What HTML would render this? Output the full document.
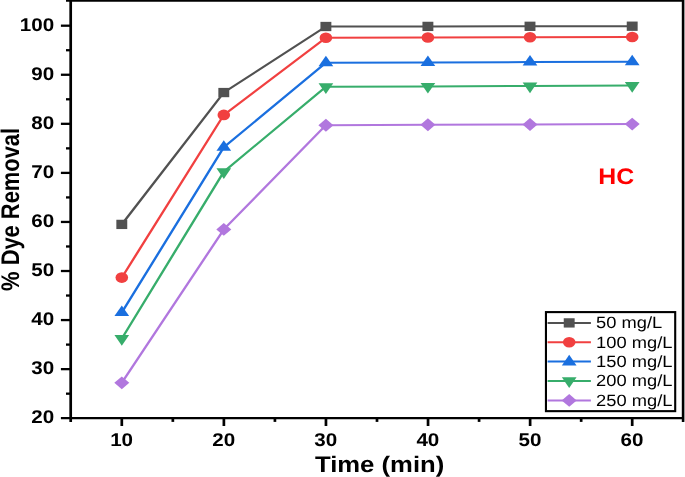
<!DOCTYPE html>
<html><head><meta charset="utf-8"><title>chart</title>
<style>
html,body{margin:0;padding:0;background:#fff;}
body{width:685px;height:477px;overflow:hidden;}
svg{display:block;will-change:transform;}
text{font-family:"Liberation Sans",sans-serif;text-rendering:geometricPrecision;}
.b{font-weight:bold;}
</style></head><body>
<svg width="685" height="477" viewBox="0 0 685 477">
<rect x="0" y="0" width="685" height="477" fill="#fff"/>

<polyline transform="scale(1.2,1)" points="101.500,224.40 186.500,92.55 271.583,26.50 356.583,26.40 441.667,26.30 526.833,26.20" fill="none" stroke="#515151" stroke-width="2.05" stroke-linejoin="round"/>
<rect x="116.35" y="219.75" width="10.9" height="9.3" fill="#515151"/>
<rect x="218.35" y="87.90" width="10.9" height="9.3" fill="#515151"/>
<rect x="320.45" y="21.85" width="10.9" height="9.3" fill="#515151"/>
<rect x="422.45" y="21.75" width="10.9" height="9.3" fill="#515151"/>
<rect x="524.55" y="21.65" width="10.9" height="9.3" fill="#515151"/>
<rect x="626.75" y="21.55" width="10.9" height="9.3" fill="#515151"/>
<polyline transform="scale(1.2,1)" points="101.500,277.60 186.500,114.90 271.583,37.75 356.583,37.50 441.667,37.25 526.833,37.00" fill="none" stroke="#F14040" stroke-width="2.05" stroke-linejoin="round"/>
<ellipse cx="121.80" cy="277.60" rx="6.3" ry="5.3" fill="#F14040"/>
<ellipse cx="223.80" cy="114.90" rx="6.3" ry="5.3" fill="#F14040"/>
<ellipse cx="325.90" cy="37.75" rx="6.3" ry="5.3" fill="#F14040"/>
<ellipse cx="427.90" cy="37.50" rx="6.3" ry="5.3" fill="#F14040"/>
<ellipse cx="530.00" cy="37.25" rx="6.3" ry="5.3" fill="#F14040"/>
<ellipse cx="632.20" cy="37.00" rx="6.3" ry="5.3" fill="#F14040"/>
<polyline transform="scale(1.2,1)" points="101.500,312.50 186.500,147.30 271.583,62.80 356.583,62.50 441.667,62.10 526.833,61.80" fill="none" stroke="#1A6FDF" stroke-width="2.05" stroke-linejoin="round"/>
<polygon points="121.80,305.40 129.15,316.00 114.45,316.00" fill="#1A6FDF"/>
<polygon points="223.80,140.20 231.15,150.80 216.45,150.80" fill="#1A6FDF"/>
<polygon points="325.90,55.70 333.25,66.30 318.55,66.30" fill="#1A6FDF"/>
<polygon points="427.90,55.40 435.25,66.00 420.55,66.00" fill="#1A6FDF"/>
<polygon points="530.00,55.00 537.35,65.60 522.65,65.60" fill="#1A6FDF"/>
<polygon points="632.20,54.70 639.55,65.30 624.85,65.30" fill="#1A6FDF"/>
<polyline transform="scale(1.2,1)" points="101.500,338.60 186.500,171.70 271.583,86.80 356.583,86.40 441.667,86.00 526.833,85.60" fill="none" stroke="#37AD6B" stroke-width="2.05" stroke-linejoin="round"/>
<polygon points="121.80,345.80 129.15,335.10 114.45,335.10" fill="#37AD6B"/>
<polygon points="223.80,178.90 231.15,168.20 216.45,168.20" fill="#37AD6B"/>
<polygon points="325.90,94.00 333.25,83.30 318.55,83.30" fill="#37AD6B"/>
<polygon points="427.90,93.60 435.25,82.90 420.55,82.90" fill="#37AD6B"/>
<polygon points="530.00,93.20 537.35,82.50 522.65,82.50" fill="#37AD6B"/>
<polygon points="632.20,92.80 639.55,82.10 624.85,82.10" fill="#37AD6B"/>
<polyline transform="scale(1.2,1)" points="101.500,382.85 186.500,229.40 271.583,125.20 356.583,124.80 441.667,124.50 526.833,124.10" fill="none" stroke="#B177DE" stroke-width="2.05" stroke-linejoin="round"/>
<polygon points="121.80,376.40 129.30,382.85 121.80,389.30 114.30,382.85" fill="#B177DE"/>
<polygon points="223.80,222.95 231.30,229.40 223.80,235.85 216.30,229.40" fill="#B177DE"/>
<polygon points="325.90,118.75 333.40,125.20 325.90,131.65 318.40,125.20" fill="#B177DE"/>
<polygon points="427.90,118.35 435.40,124.80 427.90,131.25 420.40,124.80" fill="#B177DE"/>
<polygon points="530.00,118.05 537.50,124.50 530.00,130.95 522.50,124.50" fill="#B177DE"/>
<polygon points="632.20,117.65 639.70,124.10 632.20,130.55 624.70,124.10" fill="#B177DE"/>
<g stroke="#000" fill="none">
<line x1="70.7" y1="0" x2="70.7" y2="421.9" stroke-width="2.7"/>
<line x1="682.9" y1="0" x2="682.9" y2="421.9" stroke-width="2.2"/>
<rect x="684" y="0" width="1" height="421.9" fill="#999" stroke="none"/>
<line x1="66.0" y1="0.93" x2="684" y2="0.93" stroke-width="1.86"/>
<line x1="60.9" y1="418.05" x2="684" y2="418.05" stroke-width="2.3"/>
<line x1="66.0" y1="393.67" x2="70.7" y2="393.67" stroke-width="2.3"/>
<line x1="60.9" y1="369.14" x2="70.7" y2="369.14" stroke-width="2.3"/>
<line x1="66.0" y1="344.61" x2="70.7" y2="344.61" stroke-width="2.3"/>
<line x1="60.9" y1="320.07" x2="70.7" y2="320.07" stroke-width="2.3"/>
<line x1="66.0" y1="295.54" x2="70.7" y2="295.54" stroke-width="2.3"/>
<line x1="60.9" y1="271.01" x2="70.7" y2="271.01" stroke-width="2.3"/>
<line x1="66.0" y1="246.48" x2="70.7" y2="246.48" stroke-width="2.3"/>
<line x1="60.9" y1="221.95" x2="70.7" y2="221.95" stroke-width="2.3"/>
<line x1="66.0" y1="197.42" x2="70.7" y2="197.42" stroke-width="2.3"/>
<line x1="60.9" y1="172.89" x2="70.7" y2="172.89" stroke-width="2.3"/>
<line x1="66.0" y1="148.36" x2="70.7" y2="148.36" stroke-width="2.3"/>
<line x1="60.9" y1="123.82" x2="70.7" y2="123.82" stroke-width="2.3"/>
<line x1="66.0" y1="99.29" x2="70.7" y2="99.29" stroke-width="2.3"/>
<line x1="60.9" y1="74.76" x2="70.7" y2="74.76" stroke-width="2.3"/>
<line x1="66.0" y1="50.23" x2="70.7" y2="50.23" stroke-width="2.3"/>
<line x1="60.9" y1="25.70" x2="70.7" y2="25.70" stroke-width="2.3"/>
<line x1="121.80" y1="418.05" x2="121.80" y2="426.0" stroke-width="2.7"/>
<line x1="172.84" y1="418.05" x2="172.84" y2="421.9" stroke-width="2.7"/>
<line x1="223.88" y1="418.05" x2="223.88" y2="426.0" stroke-width="2.7"/>
<line x1="274.92" y1="418.05" x2="274.92" y2="421.9" stroke-width="2.7"/>
<line x1="325.96" y1="418.05" x2="325.96" y2="426.0" stroke-width="2.7"/>
<line x1="377.00" y1="418.05" x2="377.00" y2="421.9" stroke-width="2.7"/>
<line x1="428.04" y1="418.05" x2="428.04" y2="426.0" stroke-width="2.7"/>
<line x1="479.08" y1="418.05" x2="479.08" y2="421.9" stroke-width="2.7"/>
<line x1="530.12" y1="418.05" x2="530.12" y2="426.0" stroke-width="2.7"/>
<line x1="581.16" y1="418.05" x2="581.16" y2="421.9" stroke-width="2.7"/>
<line x1="632.20" y1="418.05" x2="632.20" y2="426.0" stroke-width="2.7"/>
</g>
<text class="b" font-size="18.4" text-anchor="end" transform="translate(54.2,423.00) scale(1.12,1)">20</text>
<text class="b" font-size="18.4" text-anchor="end" transform="translate(54.2,373.94) scale(1.12,1)">30</text>
<text class="b" font-size="18.4" text-anchor="end" transform="translate(54.2,324.88) scale(1.12,1)">40</text>
<text class="b" font-size="18.4" text-anchor="end" transform="translate(54.2,275.81) scale(1.12,1)">50</text>
<text class="b" font-size="18.4" text-anchor="end" transform="translate(54.2,226.75) scale(1.12,1)">60</text>
<text class="b" font-size="18.4" text-anchor="end" transform="translate(54.2,177.69) scale(1.12,1)">70</text>
<text class="b" font-size="18.4" text-anchor="end" transform="translate(54.2,128.62) scale(1.12,1)">80</text>
<text class="b" font-size="18.4" text-anchor="end" transform="translate(54.2,79.56) scale(1.12,1)">90</text>
<text class="b" font-size="18.4" text-anchor="end" transform="translate(54.2,30.50) scale(1.12,1)">100</text>
<text class="b" font-size="18.4" text-anchor="middle" transform="translate(121.60,446.0) scale(1.12,1)">10</text>
<text class="b" font-size="18.4" text-anchor="middle" transform="translate(223.68,446.0) scale(1.12,1)">20</text>
<text class="b" font-size="18.4" text-anchor="middle" transform="translate(325.76,446.0) scale(1.12,1)">30</text>
<text class="b" font-size="18.4" text-anchor="middle" transform="translate(427.84,446.0) scale(1.12,1)">40</text>
<text class="b" font-size="18.4" text-anchor="middle" transform="translate(529.92,446.0) scale(1.12,1)">50</text>
<text class="b" font-size="18.4" text-anchor="middle" transform="translate(632.00,446.0) scale(1.12,1)">60</text>
<text class="b" font-size="22.6" text-anchor="middle" transform="translate(379.6,472.0) scale(1.136,1)">Time (min)</text>
<text class="b" font-size="21.9" text-anchor="middle" transform="translate(19.1,209.4) scale(1.165,1) rotate(-90)">% Dye Removal</text>
<text class="b" font-size="22.4" fill="#ff0000" text-anchor="middle" transform="translate(616.2,183.7) scale(1.11,1)">HC</text>
<rect x="545.95" y="312.1" width="129.25" height="99.05" fill="#fff" stroke="#000" stroke-width="2.1"/>
<line x1="547.6" y1="322.9" x2="590.9" y2="322.9" stroke="#515151" stroke-width="2"/>
<rect x="563.75" y="318.25" width="10.9" height="9.3" fill="#515151"/>
<text font-size="16.3" transform="translate(596.1,328.25) scale(1.125,1)">50 mg/L</text>
<line x1="547.6" y1="342.25" x2="590.9" y2="342.25" stroke="#F14040" stroke-width="2"/>
<ellipse cx="569.20" cy="342.25" rx="6.3" ry="5.3" fill="#F14040"/>
<text font-size="16.3" transform="translate(596.1,347.60) scale(1.125,1)">100 mg/L</text>
<line x1="547.6" y1="361.6" x2="590.9" y2="361.6" stroke="#1A6FDF" stroke-width="2"/>
<polygon points="569.20,354.80 576.55,365.40 561.85,365.40" fill="#1A6FDF"/>
<text font-size="16.3" transform="translate(596.1,366.95) scale(1.125,1)">150 mg/L</text>
<line x1="547.6" y1="381.0" x2="590.9" y2="381.0" stroke="#37AD6B" stroke-width="2"/>
<polygon points="569.20,387.90 576.55,377.20 561.85,377.20" fill="#37AD6B"/>
<text font-size="16.3" transform="translate(596.1,386.35) scale(1.125,1)">200 mg/L</text>
<line x1="547.6" y1="400.4" x2="590.9" y2="400.4" stroke="#B177DE" stroke-width="2"/>
<polygon points="569.20,393.95 576.70,400.40 569.20,406.85 561.70,400.40" fill="#B177DE"/>
<text font-size="16.3" transform="translate(596.1,405.75) scale(1.125,1)">250 mg/L</text>
</svg></body></html>
